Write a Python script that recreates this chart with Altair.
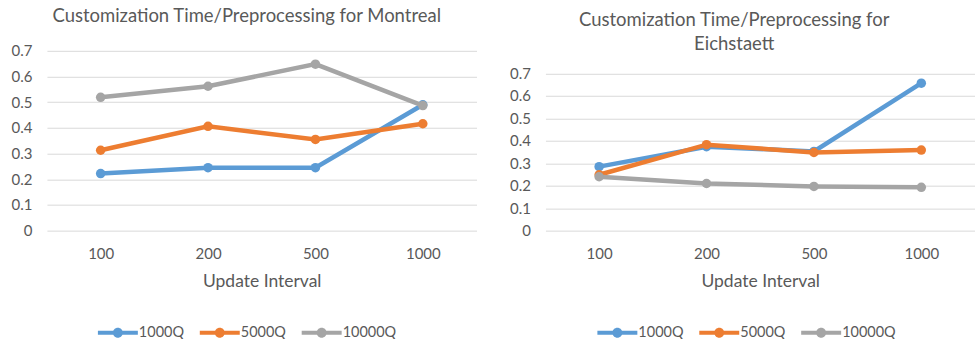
import altair as alt
import pandas as pd

# Update intervals (x categories) and query-load series
intervals = ["100", "200", "500", "1000"]
series = ["1000Q", "5000Q", "10000Q"]
colors = ["#5B9BD5", "#ED7D31", "#A5A5A5"]

# Customization time / preprocessing ratios
montreal_1000q = [0.222, 0.245, 0.245, 0.490]
montreal_5000q = [0.313, 0.406, 0.355, 0.416]
montreal_10000q = [0.519, 0.562, 0.648, 0.487]

eichstaett_1000q = [0.285, 0.374, 0.353, 0.657]
eichstaett_5000q = [0.249, 0.383, 0.348, 0.359]
eichstaett_10000q = [0.240, 0.210, 0.197, 0.193]

y_ticks = [0, 0.1, 0.2, 0.3, 0.4, 0.5, 0.6, 0.7]

FONT = "Lato"
TEXT = "#595959"
GRID = "#D9D9D9"

# Legend symbol: a short line with a dot in the middle
LINE_DOT = ("M-1,-0.1L1,-0.1L1,0.1L-1,0.1Z "
            "M-0.25,0A0.25,0.25,0,1,1,0.25,0A0.25,0.25,0,1,1,-0.25,0Z")


def frame(values_by_series):
    rows = []
    for s, vals in zip(series, values_by_series):
        for iv, v in zip(intervals, vals):
            rows.append({"interval": iv, "series": s, "value": v})
    return pd.DataFrame(rows)


def panel(df, title_lines, y_max, title_dx, title_offset, legend_x, legend_y):
    x = alt.X("interval:N", sort=intervals,
              scale=alt.Scale(type="point", padding=0.5),
              axis=alt.Axis(title="Update Interval", labelAngle=0, ticks=False,
                            domain=False, grid=False, labelPadding=16,
                            titlePadding=11))
    y = alt.Y("value:Q", scale=alt.Scale(domain=[0, y_max], nice=False, zero=True),
              axis=alt.Axis(title=None, values=y_ticks,
                            format="~g", ticks=False, domain=False, labelPadding=15))
    color_scale = alt.Scale(domain=series, range=colors)
    legend = alt.Legend(title=None, orient="none", direction="horizontal",
                        legendX=legend_x, legendY=legend_y,
                        symbolType=LINE_DOT, symbolSize=1600, symbolStrokeWidth=0,
                        labelOffset=1, columnPadding=15, labelFontSize=14.5,
                        labelColor=TEXT, labelFont=FONT)
    layers = []
    for s, c in zip(series, colors):
        sub = df[df["series"] == s]
        base = alt.Chart(sub)
        line = base.mark_line(strokeWidth=4.5, color=c).encode(x=x, y=y)
        pts = base.mark_point(filled=True, size=90, opacity=1).encode(
            x=x, y=y,
            color=alt.Color("series:N", scale=color_scale, legend=legend))
        layers += [line, pts]
    return alt.layer(*layers).properties(
        width=430, height=180,
        title=alt.Title(title_lines, fontSize=18.5, font=FONT, fontWeight="normal",
                        color=TEXT, dx=title_dx, offset=title_offset, anchor="middle",
                        lineHeight=24))


left = panel(frame([montreal_1000q, montreal_5000q, montreal_10000q]),
             "Customization Time/Preprocessing for Montreal",
             0.7, -15, 18, 51, 262)
right = panel(frame([eichstaett_1000q, eichstaett_5000q, eichstaett_10000q]),
              ["Customization Time/Preprocessing for", "Eichstaett"],
              0.801, -26, -3, 52, 262)

chart = alt.hconcat(left, right, spacing=33).resolve_scale(
    color="independent", y="independent"
).resolve_legend(color="independent").configure_view(stroke=None).configure_axis(
    labelFont=FONT, labelFontSize=15, labelColor=TEXT,
    titleFont=FONT, titleFontSize=17.5, titleColor=TEXT, titleFontWeight="normal",
    gridColor=GRID, gridWidth=1
).properties(padding={"left": 11, "top": 6.7, "right": 0, "bottom": 0})

chart.save("out.html", embed_options={"renderer": "svg", "actions": False})
